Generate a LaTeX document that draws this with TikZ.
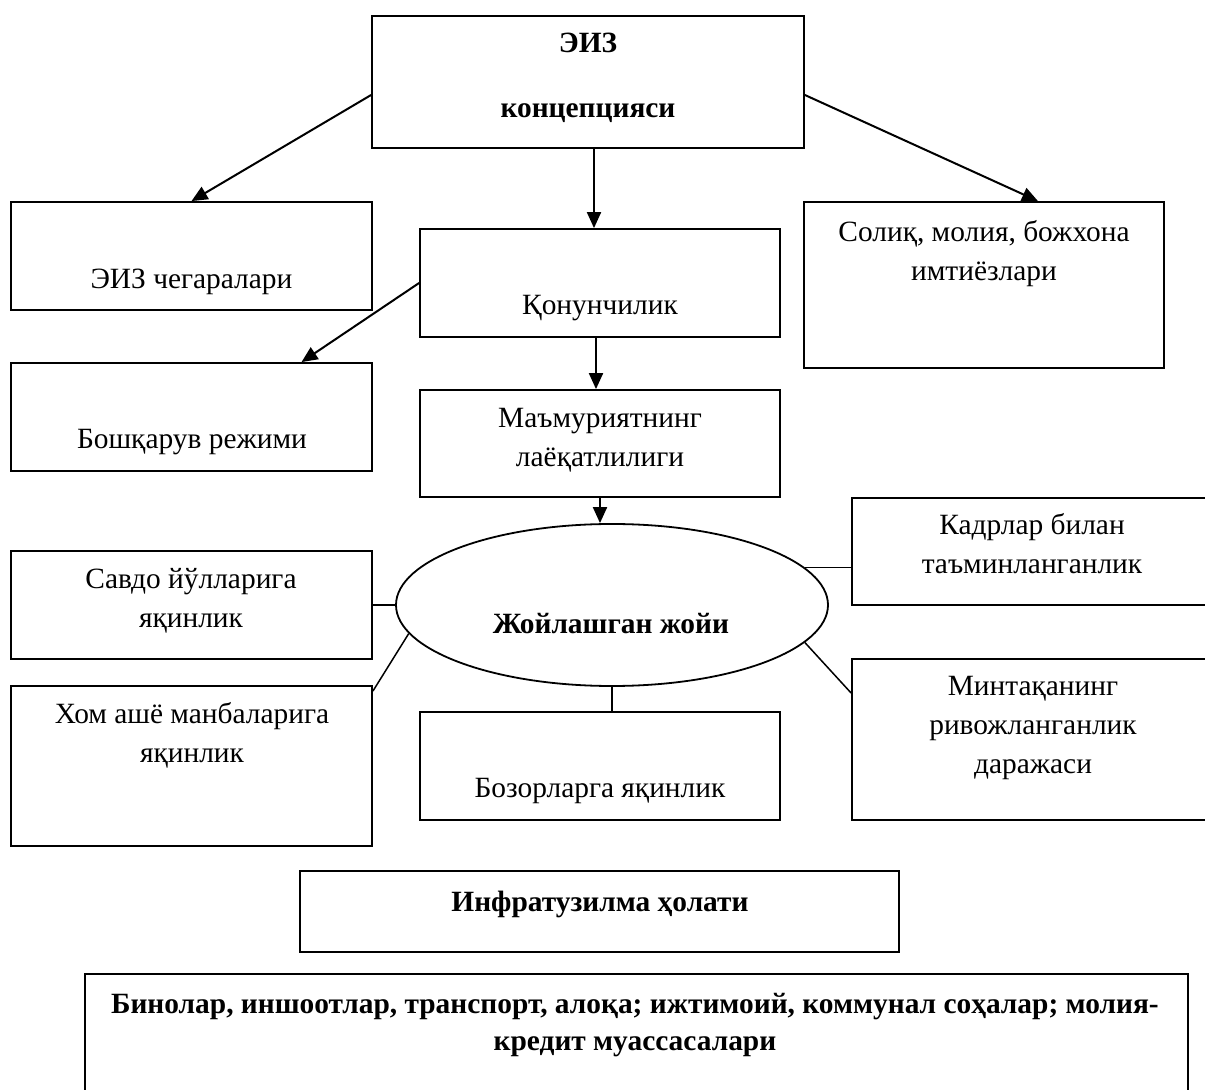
\documentclass[tikz,border=0pt]{standalone}
\usepackage{fontspec}
\setmainfont{Liberation Serif}
\usetikzlibrary{arrows.meta,shapes.geometric}
\tikzset{
  blk/.style={draw, line width=0.9pt, inner sep=0pt, minimum width=180pt, minimum height=54pt},
  txt/.style={font=\fontsize{14.7}{19.5}\selectfont, align=center, inner sep=0pt},
  btxt/.style={txt, font=\fontsize{14.7}{19.5}\selectfont\bfseries},
  arr/.style={line width=1pt, -{Triangle[length=8pt,width=7pt]}},
  lnk/.style={line width=0.75pt}
}
\begin{document}
\begin{tikzpicture}[x=0.5pt, y=-0.5pt]
    \useasboundingbox (0,0) rectangle (1205,1090);
    \clip (0,0) rectangle (1205,1090);
    % boxes
    \node[blk, minimum width=216pt, minimum height=66pt] (top) at (588,82) {};
    \node[blk, minimum width=180.5pt] (gran) at (191.5,256) {};
    \node[blk] (qonun) at (600,283) {};
    \node[blk, minimum width=180.5pt] (boshq) at (191.5,417) {};
    \node[blk, minimum height=53.5pt] (mamur) at (600,443.5) {};
    \node[blk, minimum height=83pt] (solik) at (984,285) {};
    \node[draw, ellipse, line width=0.9pt, minimum width=216pt, minimum height=81pt] (loc) at (612,605) {};
    \node[blk, minimum width=180.5pt] (savdo) at (191.5,605) {};
    \node[blk, minimum height=53.5pt] (kadr) at (1032,551.5) {};
    \node[blk, minimum width=180.5pt, minimum height=80pt] (hom) at (191.5,766) {};
    \node[blk] (bozor) at (600,766) {};
    \node[blk, minimum height=80.5pt] (mintaqa) at (1032,739.5) {};
    \node[blk, minimum width=299.5pt, minimum height=40.5pt] (infra) at (599.5,911.5) {};
    \node[blk, minimum width=551.5pt, minimum height=68pt] (bino) at (636.5,1042) {};
    % texts
    \node[btxt] (topT) at (588,78) {ЭИЗ\\[13pt]концепцияси};
    \node[txt] (granT) at (191.5,282) {ЭИЗ чегаралари};
    \node[txt] (qonunT) at (600,308) {Қонунчилик};
    \node[txt] (boshqT) at (192,442) {Бошқарув режими};
    \node[txt] (mamurT) at (600,440) {Маъмуриятнинг\\лаёқатлилиги};
    \node[txt] (solikT) at (984,254) {Солиқ, молия, божхона\\имтиёзлари};
    \node[btxt] (locT) at (611,624) {Жойлашган жойи};
    \node[txt] (savdoT) at (191,601) {Савдо йўлларига\\яқинлик};
    \node[txt] (kadrT) at (1032,544) {Кадрлар билан\\таъминланганлик};
    \node[txt] (homT) at (192,735) {Хом ашё манбаларига\\яқинлик};
    \node[txt] (bozorT) at (600,791) {Бозорларга яқинлик};
    \node[txt] (mintaqaT) at (1033,728) {Минтақанинг\\ривожланганлик\\даражаси};
    \node[btxt] (infraT) at (600,904) {Инфратузилма ҳолати};
    \node[btxt, font=\fontsize{14.7}{18.5}\selectfont\bfseries] (binoT) at (635,1025) {Бинолар, иншоотлар, транспорт, алоқа; ижтимоий, коммунал соҳалар; молия-\\кредит муассасалари};
    % arrows from the concept
    \draw[arr] ([yshift=-6.5pt]top.west) -- (gran.north);
    \draw[arr] ([yshift=-6.5pt]top.east) -- ([xshift=27pt]solik.north);
    \draw[arr] ([xshift=3pt]top.south) -- ([xshift=-3pt]qonun.north);
    \draw[arr] (qonun.west) -- ([xshift=55pt]boshq.north);
    \draw[arr] ([xshift=-2pt]qonun.south) -- ([xshift=-2pt]mamur.north);
    \draw[arr] (mamur.south) -- (mamur.south |- loc.north);
    % links round the location
    \draw[lnk] (savdo.east) -- (loc.west);
    \draw[lnk] ([yshift=-3pt]hom.north east) -- (loc.188);
    \draw[lnk] (loc.south) -- (loc.south |- bozor.north);
    \draw[lnk] (loc.11) -- (loc.11 -| kadr.west);
    \draw[lnk] (loc.349) -- ([yshift=23.25pt]mintaqa.west);
\end{tikzpicture}
\end{document}
